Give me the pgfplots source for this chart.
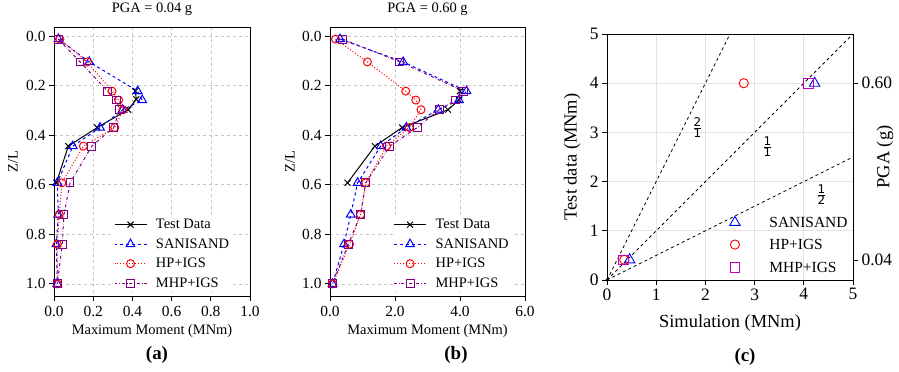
\documentclass[border=0pt]{standalone}
\usepackage{fontspec}
\setmainfont{Liberation Serif}
\newfontfamily\dejavu{DejaVu Sans}
\usepackage{pgfplots}
\pgfplotsset{compat=1.18}
\definecolor{mpurple}{RGB}{128,0,128}
\definecolor{mmag}{RGB}{191,0,191}

\pgfplotstableread{
z     san    hp     mhp
0.012 0.022  0.030  0.022
0.104 0.180  0.170  0.133
0.222 0.427  0.296  0.274
0.258 0.450  0.330  0.318
0.297 0.350  0.352  0.335
0.369 0.235  0.310  0.304
0.444 0.096  0.150  0.193
0.592 0.017  0.040  0.082
0.720 0.022  0.027  0.051
0.840 0.012  0.017  0.042
1.000 0.017  0.017  0.017
}\simA
\pgfplotstableread{
z     test
0.222 0.415
0.255 0.420
0.297 0.378
0.369 0.220
0.444 0.073
0.592 0.012
}\testA
\pgfplotstableread{
z     san    hp     mhp
0.012 0.31   0.17   0.39
0.104 2.25   1.15   2.15
0.222 4.20   2.33   4.11
0.258 3.97   2.64   3.87
0.297 3.33   2.80   3.36
0.369 2.35   2.44   2.68
0.444 1.56   1.74   1.84
0.592 0.85   1.10   1.10
0.720 0.64   0.94   0.94
0.840 0.43   0.60   0.56
1.000 0.08   0.08   0.08
}\simB
\pgfplotstableread{
z     test
0.222 4.00
0.258 3.97
0.297 3.63
0.369 2.22
0.444 1.38
0.592 0.54
}\testB

\pgfplotsset{
  prof/.style={
    scale only axis, height=269bp,
    y dir=reverse, ymin=-0.037, ymax=1.049,
    ytick={0,0.2,0.4,0.6,0.8,1.0},
    xtick pos=bottom, ytick pos=left, tick align=outside,
    major tick length=5bp,
    tick style={black, line width=0.8bp},
    axis line style={line width=0.8bp},
    grid=major, major grid style={dashed, gray!45, line width=0.6bp},
    /pgf/number format/assume math mode=true,
    tick label style={font=\fontsize{15.5}{17}\selectfont},
    yticklabel style={/pgf/number format/.cd, fixed, fixed zerofill, precision=1},
    xticklabel style={/pgf/number format/.cd, fixed, fixed zerofill, precision=1, /tikz/yshift=-1.5bp},
    label style={font=\fontsize{14.5}{17}\selectfont},
    title style={font=\fontsize{14.5}{17}\selectfont, at={(axis description cs:0.5,1)}, anchor=center, yshift=12bp},
    xlabel style={at={(axis description cs:0.5,0)}, anchor=center, yshift=-35bp},
    ylabel style={anchor=center},
    ylabel=Z/L, xlabel=Maximum Moment (MNm),
    legend cell align=left,
    legend style={draw=none, fill=white, inner sep=1bp, row sep=4.5bp,
      font=\fontsize{14.5}{16}\selectfont, anchor=south west,
      /tikz/every odd column/.append style={column sep=7bp}},
    legend image code/.code={\draw[mark repeat=2,mark phase=2,#1] plot coordinates {(0bp,0bp)(16bp,0bp)(32bp,0bp)};},
  },
  ts/.style={black, line width=1bp, mark=x, mark size=4.2bp, mark options={solid}},
  ss/.style={blue, dashed, line width=1bp, mark=triangle, mark size=5bp, mark options={solid}},
  hs/.style={red, dotted, line width=1bp, mark=o, mark size=4bp, mark options={solid}},
  ms/.style={color=mpurple, dash dot, line width=1bp, mark=square, mark size=3.9bp, mark options={solid}},
}

\begin{document}
\begin{tikzpicture}[x=1bp,y=1bp]
% (a)
\begin{axis}[prof, at={(54bp,75bp)}, anchor=south west, width=196bp,
  xmin=0, xmax=1.0, xtick={0,0.2,0.4,0.6,0.8,1.0},
  title={PGA = 0.04 g},
  ylabel style={at={(axis description cs:-0.21,0.5)}},
  legend style={at={(axis description cs:0.30,0.015)}}]
\addplot[ts] table[x=test, y=z] {\testA};
\addlegendentry{Test Data}
\addplot[ss] table[x=san, y=z] {\simA};
\addlegendentry{SANISAND}
\addplot[hs] table[x=hp, y=z] {\simA};
\addlegendentry{HP+IGS}
\addplot[ms] table[x=mhp, y=z] {\simA};
\addlegendentry{MHP+IGS}
\end{axis}
% (b)
\begin{axis}[prof, at={(330bp,75bp)}, anchor=south west, width=195bp,
  xmin=0, xmax=6.0, xtick={0,2,4,6},
  title={PGA = 0.60 g},
  ylabel style={at={(axis description cs:-0.205,0.5)}},
  legend style={at={(axis description cs:0.32,0.015)}}]
\addplot[ts] table[x=test, y=z] {\testB};
\addlegendentry{Test Data}
\addplot[ss] table[x=san, y=z] {\simB};
\addlegendentry{SANISAND}
\addplot[hs] table[x=hp, y=z] {\simB};
\addlegendentry{HP+IGS}
\addplot[ms] table[x=mhp, y=z] {\simB};
\addlegendentry{MHP+IGS}
\end{axis}
% (c)
\begin{axis}[scale only axis, at={(607bp,91bp)}, anchor=south west, width=246bp, height=246bp,
  xmin=0, xmax=5, ymin=0, ymax=5, xtick={0,1,2,3,4,5}, ytick={0,1,2,3,4,5},
  xtick pos=bottom, ytick pos=left, tick align=outside, major tick length=5bp,
  tick style={black, line width=0.8bp}, axis line style={line width=0.8bp},
  grid=major, major grid style={gray!22, line width=0.8bp},
  /pgf/number format/assume math mode=true,
  tick label style={font=\fontsize{17.5}{19}\selectfont},
  label style={font=\fontsize{18.5}{21}\selectfont},
  xlabel=Simulation (MNm), ylabel=Test data (MNm),
  xlabel style={at={(axis description cs:0.5,0)}, anchor=center, yshift=-43bp},
  ylabel style={at={(axis description cs:-0.142,0.5)}, anchor=center},
  ]
\addplot[black, dashed, line width=0.8bp] coordinates {(0,0)(2.5,5)};
\addplot[black, dashed, line width=0.8bp] coordinates {(0,0)(5,5)};
\addplot[black, dashed, line width=0.8bp] coordinates {(0,0)(5,2.5)};
\addplot[black, only marks, mark=*, mark size=1.4bp] coordinates {(0,0)};
\addplot[color=blue, only marks, mark=triangle, mark size=6bp, line width=0.9bp] coordinates {(0.46,0.41)(4.22,4.0)};
\addplot[color=red, only marks, mark=o, mark size=4.6bp, line width=0.9bp] coordinates {(0.35,0.41)(2.78,4.0)};
\addplot[color=mmag, only marks, mark=square, mark size=4.8bp, line width=0.9bp] coordinates {(0.33,0.41)(4.10,4.0)};
\node[font=\dejavu\fontsize{12}{13}\selectfont] at (axis cs:1.84,3.09) {$\frac{\mbox{2}}{\mbox{1}}$};
\node[font=\dejavu\fontsize{12}{13}\selectfont] at (axis cs:3.26,2.71) {$\frac{\mbox{1}}{\mbox{1}}$};
\node[font=\dejavu\fontsize{12}{13}\selectfont] at (axis cs:4.36,1.73) {$\frac{\mbox{1}}{\mbox{2}}$};
% legend (c)
\addplot[color=blue, only marks, mark=triangle, mark size=6bp, line width=0.9bp] coordinates {(2.6,1.17)};
\addplot[color=red, only marks, mark=o, mark size=4.6bp, line width=0.9bp] coordinates {(2.6,0.72)};
\addplot[color=mmag, only marks, mark=square, mark size=4.8bp, line width=0.9bp] coordinates {(2.6,0.26)};
\node[anchor=west, font=\fontsize{15.5}{18}\selectfont] at (axis cs:3.23,1.17) {SANISAND};
\node[anchor=west, font=\fontsize{15.5}{18}\selectfont] at (axis cs:3.23,0.72) {HP+IGS};
\node[anchor=west, font=\fontsize{15.5}{18}\selectfont] at (axis cs:3.23,0.26) {MHP+IGS};
\end{axis}
\begin{axis}[scale only axis, at={(607bp,91bp)}, anchor=south west, width=246bp, height=246bp,
  xmin=0, xmax=5, ymin=0, ymax=5, axis x line=none, axis y line*=right,
  ytick={0.4,4}, yticklabels={0.04,0.60}, tick align=outside, major tick length=5bp,
  tick style={black, line width=0.8bp}, axis line style={line width=0.8bp},
  tick label style={font=\fontsize{17.5}{19}\selectfont},
  ylabel=PGA (g), label style={font=\fontsize{18.5}{21}\selectfont},
  ylabel style={at={(axis description cs:1.13,0.5)}, anchor=center, rotate=0}]
\end{axis}
\node[font=\bfseries\fontsize{19}{21}\selectfont] at (157,16) {(a)};
\node[font=\bfseries\fontsize{19}{21}\selectfont] at (456,16) {(b)};
\node[font=\bfseries\fontsize{19}{21}\selectfont] at (745,14) {(c)};
\pgfresetboundingbox
\useasboundingbox (0,0) rectangle (899,371);
\end{tikzpicture}
\end{document}
